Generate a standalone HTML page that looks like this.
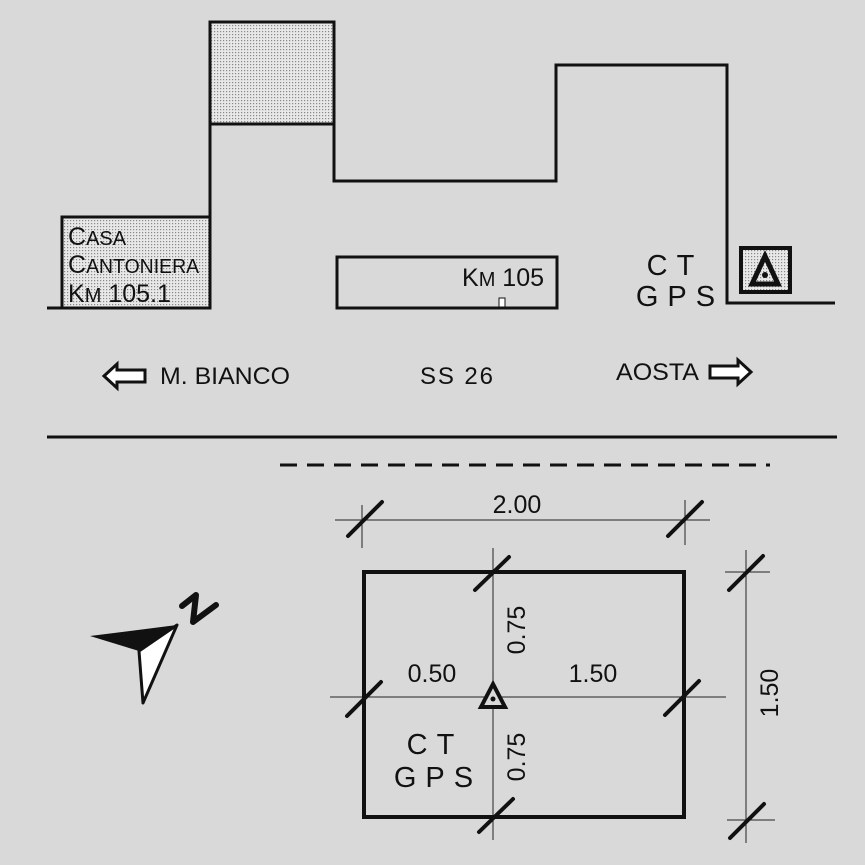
<!DOCTYPE html>
<html><head><meta charset="utf-8"><style>
html,body{margin:0;padding:0;background:#d9d9d9}
svg{display:block}
text{font-family:"Liberation Sans",sans-serif;fill:#111}
</style></head><body>
<svg width="865" height="865" viewBox="0 0 865 865" xmlns="http://www.w3.org/2000/svg">
<defs>
<pattern id="dots" width="3" height="3" patternUnits="userSpaceOnUse">
<rect width="3" height="3" fill="#e8e8e8"/><rect x="1" y="1" width="1.2" height="1.2" fill="#888"/>
</pattern>
</defs>
<rect width="865" height="865" fill="#d9d9d9"/>
<rect x="62" y="217" width="148" height="91" fill="url(#dots)" stroke="#111" stroke-width="3"/>
<rect x="210" y="22" width="124" height="102" fill="url(#dots)" stroke="#111" stroke-width="3"/>
<polyline points="47,308 210,308 210,22 334,22 334,181 556,181 556,65 727,65 727,303 835,303" fill="none" stroke="#111" stroke-width="3"/>
<rect x="337" y="257" width="220" height="51" fill="none" stroke="#111" stroke-width="3"/>
<rect x="499" y="298" width="6" height="9" fill="#fff" stroke="#111" stroke-width="1"/>
<text x="68" y="245" font-size="25">C<tspan font-size="20">ASA</tspan></text>
<text x="68" y="273" font-size="25">C<tspan font-size="20" textLength="113" lengthAdjust="spacingAndGlyphs">ANTONIERA</tspan></text>
<text x="68" y="302" font-size="25">K<tspan font-size="20">M</tspan> 105.1</text>
<text x="462" y="286" font-size="25">K<tspan font-size="20">M</tspan> 105</text>
<text x="675" y="275" font-size="29" text-anchor="middle" letter-spacing="9">CT</text>
<text x="680" y="306" font-size="29" text-anchor="middle" letter-spacing="9">GPS</text>
<rect x="741" y="248" width="49" height="44" fill="url(#dots)" stroke="#111" stroke-width="4"/>
<polygon points="765,256 752,284 778,284" fill="none" stroke="#111" stroke-width="5"/>
<circle cx="765" cy="275" r="3" fill="#111"/>
<polygon points="104,376 117,364 117,370 145,370 145,382 117,382 117,388" fill="#fff" stroke="#111" stroke-width="3"/>
<text x="160" y="384" font-size="24" textLength="130" lengthAdjust="spacingAndGlyphs">M. BIANCO</text>
<text x="420" y="384" font-size="24" textLength="73" lengthAdjust="spacing">SS  26</text>
<text x="616" y="380" font-size="24" textLength="83" lengthAdjust="spacingAndGlyphs">AOSTA</text>
<polygon points="751,372 738,360 738,366 710,366 710,378 738,378 738,384" fill="#fff" stroke="#111" stroke-width="3"/>
<line x1="47" y1="437" x2="837" y2="437" stroke="#111" stroke-width="3"/>
<line x1="280" y1="465" x2="770" y2="465" stroke="#111" stroke-width="3" stroke-dasharray="17,10"/>
<polygon points="90,636 177,625 139,651" fill="#111"/>
<polygon points="177,625 139,651 143,703" fill="#fff" stroke="#111" stroke-width="3" stroke-linejoin="round"/>
<polyline points="182,606 196,595 193,622 216,605" fill="none" stroke="#111" stroke-width="6" stroke-linejoin="round" stroke-linecap="round"/>
<g stroke="#222" stroke-width="1">
<line x1="335" y1="520" x2="710" y2="520"/>
<line x1="362" y1="505" x2="362" y2="548"/>
<line x1="685" y1="500" x2="685" y2="545"/>
<line x1="493" y1="548" x2="493" y2="840"/>
<line x1="330" y1="697" x2="726" y2="697"/>
<line x1="746" y1="550" x2="746" y2="843"/>
<line x1="725" y1="572" x2="770" y2="572"/>
<line x1="727" y1="820" x2="775" y2="820"/>
</g>
<rect x="364" y="572" width="320" height="245" fill="none" stroke="#111" stroke-width="4"/>
<g stroke="#111" stroke-width="4" stroke-linecap="round">
<line x1="348" y1="536" x2="382" y2="502"/>
<line x1="668" y1="536" x2="702" y2="502"/>
<line x1="475" y1="590" x2="509" y2="557"/>
<line x1="347" y1="716" x2="381" y2="682"/>
<line x1="665" y1="715" x2="699" y2="681"/>
<line x1="479" y1="832" x2="513" y2="799"/>
<line x1="729" y1="590" x2="763" y2="556"/>
<line x1="730" y1="838" x2="764" y2="804"/>
</g>
<polygon points="493,684 481,707 505,707" fill="#d9d9d9" stroke="#111" stroke-width="4" stroke-linejoin="miter"/>
<circle cx="493" cy="699" r="2.5" fill="#111"/>
<text x="517" y="513" font-size="25" text-anchor="middle">2.00</text>
<text x="432" y="682" font-size="25" text-anchor="middle">0.50</text>
<text x="593" y="682" font-size="25" text-anchor="middle">1.50</text>
<text transform="translate(525,630) rotate(-90)" font-size="25" text-anchor="middle">0.75</text>
<text transform="translate(525,757) rotate(-90)" font-size="25" text-anchor="middle">0.75</text>
<text transform="translate(778,693) rotate(-90)" font-size="25" text-anchor="middle">1.50</text>
<text x="435" y="754" font-size="29" text-anchor="middle" letter-spacing="9">CT</text>
<text x="438" y="787" font-size="29" text-anchor="middle" letter-spacing="9">GPS</text>
</svg>
</body></html>
